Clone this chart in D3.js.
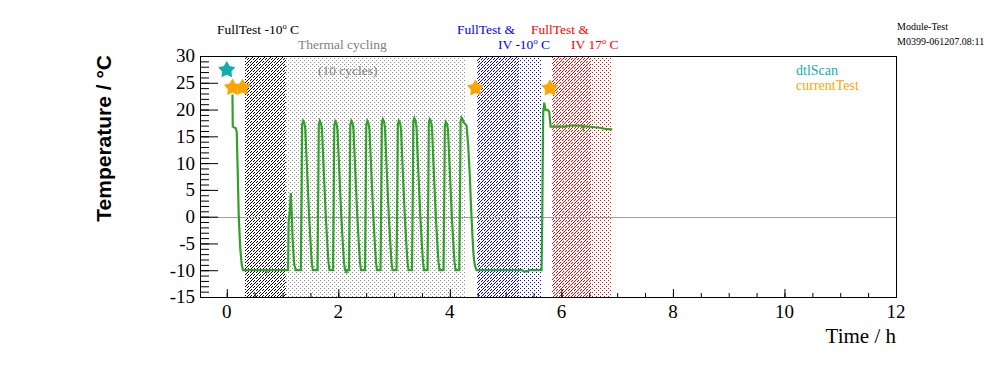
<!DOCTYPE html>
<html><head><meta charset="utf-8">
<script src="https://cdn.jsdelivr.net/npm/d3@7"></script>
<style>html,body{margin:0;padding:0;background:#fff;}svg{display:block;}</style>
</head><body>
<svg id="chart" width="996" height="372"></svg>
<script>
// ---- data ----
const timeH = [
 0.084,0.102,0.108,0.161,0.179,0.197,0.215,0.242,0.269,0.292,0.700,0.715,0.730,
 1.100,1.109,1.130,1.148,1.166,1.184,1.211,1.238,
 1.328,1.342,1.351,1.369,1.391,1.408,1.430,1.453,1.477,1.507,1.525,1.543,
 1.627,1.641,1.650,1.668,1.690,1.707,1.729,1.752,1.776,1.806,1.824,1.842,
 1.905,1.919,1.928,1.946,1.968,1.985,2.007,2.030,2.054,2.084,2.102,2.120,2.140,2.147,2.155,
 2.192,2.206,2.215,2.233,2.255,2.272,2.294,2.317,2.341,2.371,2.389,2.407,
 2.479,2.493,2.502,2.520,2.542,2.559,2.581,2.604,2.628,2.658,2.676,2.694,
 2.757,2.771,2.780,2.798,2.820,2.837,2.859,2.882,2.906,2.936,2.954,2.972,
 3.044,3.058,3.067,3.085,3.107,3.124,3.146,3.169,3.193,3.223,3.241,3.259,
 3.322,3.336,3.345,3.363,3.385,3.402,3.424,3.447,3.471,3.501,3.519,3.537,
 3.600,3.614,3.623,3.641,3.663,3.680,3.702,3.725,3.749,3.779,3.797,3.815,
 3.887,3.901,3.910,3.928,3.950,3.967,3.989,4.012,4.036,4.066,4.084,4.102,
 4.169,4.183,4.192,4.210,4.232,4.250,4.300,4.328,4.359,4.377,4.400,4.418,4.431,4.449,4.479,
 5.300,5.320,5.400,5.420,5.645,5.656,5.674,5.692,5.717,5.758,5.782,5.807,
 6.063,6.153,6.386,6.395,6.404,6.600,6.691,6.780,6.911
];
const tempC = [
 22.6,22.6,16.8,16.5,15.8,8.0,0.0,-6.0,-9.0,-10.0,-10.0,-10.3,-10.0,
 -10.0,-1.0,1.0,4.4,0.0,-5.0,-9.0,-10.0,
 -10,5,17.2,17.9,17.5,16.4,11.0,5.6,0.0,-5.6,-8.5,-10.0,
 -10,5,17.2,17.9,17.4,16.3,11.0,5.6,0.0,-5.6,-8.5,-10.0,
 -10,5,17.1,17.8,17.4,16.2,11.0,5.6,0.0,-5.6,-8.5,-10.0,-10.0,-10.6,-10.0,
 -10,5,17.2,17.9,17.5,16.4,11.0,5.6,0.0,-5.6,-8.5,-10.0,
 -10,5,17.2,17.9,17.4,16.3,11.0,5.6,0.0,-5.6,-8.5,-10.0,
 -10,5,17.5,18.2,17.7,16.6,11.0,5.6,0.0,-5.6,-8.5,-10.0,
 -10,5,17.2,17.9,17.5,16.4,11.0,5.6,0.0,-5.6,-8.5,-10.0,
 -10,5,17.8,18.4,17.9,16.8,11.0,5.6,0.0,-5.6,-8.5,-10.0,
 -10,5,17.5,18.2,17.8,16.6,11.0,5.6,0.0,-5.6,-8.5,-10.0,
 -10,5,17.0,17.7,17.3,16.2,11.0,5.6,0.0,-5.6,-8.5,-10.0,
 -10,5,17.8,18.5,18.1,17.6,17.0,13.4,7.5,2.5,-2.5,-6.0,-7.9,-9.1,-10.0,
 -10.0,-10.2,-10.2,-10.0,-10.0,-1.0,19.6,21.3,19.9,19.9,19.6,16.8,
 16.8,17.0,17.0,16.6,16.9,16.7,16.6,16.4,16.3
];
// test markers
const dtlScanTime = [0.0];
const dtlScanTemp = [27.4];
const currentTestTime = [0.102, 0.282, 4.461, 5.794];
const currentTestTemp = [24.1, 24.1, 24.0, 24.0];
// shaded periods (hours)
const bandKinds = ["hatch", "dots", "hatch", "dots", "hatch", "dots"];
const bandColors = ["#000000", "#8c8c8c", "#0000ff", "#0000ff", "#ff0000", "#ff0000"];
const bandStart = [0.323, 1.058, 4.484, 5.238, 5.830, 6.529];
const bandEnd   = [1.058, 4.269, 5.238, 5.632, 6.529, 6.888];
// axes
const xTicks = [0, 2, 4, 6, 8, 10, 12];
const yTicks = [-15, -10, -5, 0, 5, 10, 15, 20, 25, 30];

// ---- drawing ----
const svg = d3.select("#chart");
const L = 200, R = 896, T = 56, B = 297;
const x = d3.scaleLinear().domain([-0.48, 12]).range([L, R]);
const y = d3.scaleLinear().domain([-15, 30]).range([B, T]);
const serif = "'Liberation Serif','Times New Roman',serif";

// pixel fill patterns (ROOT-like bitmap hatches), aligned to page pixel grid
const mod = (a, n) => ((a % n) + n) % n;
const tests = {
  hatch: (i, j) => mod(i + j, 3) === 0 && mod(i - j, 6) !== 0,
  dots: (i, j) => (i % 4 === 0 && j % 4 === 0) || (i % 4 === 2 && j % 4 === 2)
};
function pixelPath(x0, x1, test) {
  let s = "";
  for (let i = Math.round(x0); i < Math.round(x1); i++)
    for (let j = T + 1; j < B; j++)
      if (test(i, j)) s += "M" + i + "," + j + "h1v1h-1z";
  return s;
}
svg.append("g").attr("shape-rendering", "crispEdges").selectAll("path")
  .data(bandKinds.map((k, i) => ({k, c: bandColors[i], s: bandStart[i], e: bandEnd[i]})))
  .join("path")
  .attr("d", d => pixelPath(x(d.s), x(d.e), tests[d.k]))
  .attr("fill", d => d.c);

// zero line
svg.append("line").attr("x1", L).attr("x2", R).attr("y1", Math.round(y(0)) + 0.5).attr("y2", Math.round(y(0)) + 0.5)
  .attr("stroke", "#a0a0a0").attr("stroke-width", 1);

// temperature curve
const pts = timeH.map((t, i) => [t, tempC[i]]);
svg.append("path").datum(pts)
  .attr("d", d3.line().x(d => x(d[0])).y(d => y(d[1])))
  .attr("fill", "none").attr("stroke", "#33a02c").attr("stroke-width", 2.2)
  .attr("stroke-linejoin", "miter");

// star symbol
const fatStar = {
  draw(ctx, size) {
    const r = Math.sqrt(size), ri = r * 0.55;
    for (let k = 0; k < 10; k++) {
      const rr = k % 2 ? ri : r;
      const a = -Math.PI / 2 + k * Math.PI / 5;
      const px = rr * Math.cos(a), py = rr * Math.sin(a);
      k ? ctx.lineTo(px, py) : ctx.moveTo(px, py);
    }
    ctx.closePath();
  }
};
const star = d3.symbol().type(fatStar).size(81);
svg.append("g").selectAll("path").data(dtlScanTime.map((t, i) => [t, dtlScanTemp[i]]))
  .join("path").attr("d", star)
  .attr("transform", d => `translate(${x(d[0])},${y(d[1])})`).attr("fill", "#14adad");
svg.append("g").selectAll("path").data(currentTestTime.map((t, i) => [t, currentTestTemp[i]]))
  .join("path").attr("d", star)
  .attr("transform", d => `translate(${x(d[0])},${y(d[1])})`).attr("fill", "#ffa500");

// frame
svg.append("rect").attr("x", L + 0.5).attr("y", T + 0.5).attr("width", R - L).attr("height", B - T)
  .attr("fill", "none").attr("stroke", "#000").attr("stroke-width", 1);

// x axis
const xMinor = d3.range(0, 12.01, 0.5);
svg.append("g").attr("transform", `translate(0,${B})`)
  .call(d3.axisTop(x).tickValues(xMinor).tickSize(4).tickFormat(""))
  .call(g => g.select(".domain").remove());
svg.append("g").attr("transform", `translate(0,${B})`)
  .call(d3.axisTop(x).tickValues(xTicks).tickSize(8).tickFormat(""))
  .call(g => g.select(".domain").remove());
svg.append("g").selectAll("text").data(xTicks).join("text")
  .attr("x", d => x(d)).attr("y", 318).attr("text-anchor", "middle")
  .attr("font-family", serif).attr("font-size", 19).text(d => d);

// y axis
const yMinor = d3.range(-15, 30.01, 1);
svg.append("g").attr("transform", `translate(${L},0)`)
  .call(d3.axisRight(y).tickValues(yMinor).tickSize(9).tickFormat(""))
  .call(g => g.select(".domain").remove());
svg.append("g").attr("transform", `translate(${L},0)`)
  .call(d3.axisRight(y).tickValues(yTicks).tickSize(18).tickFormat(""))
  .call(g => g.select(".domain").remove());
svg.append("g").selectAll("text").data(yTicks).join("text")
  .attr("x", 195).attr("y", d => y(d)).attr("dy", "0.34em").attr("text-anchor", "end")
  .attr("font-family", serif).attr("font-size", 19).text(d => d);

// axis titles
svg.append("text").attr("x", 896).attr("y", 343).attr("text-anchor", "end")
  .attr("font-family", serif).attr("font-size", 21).text("Time / h");
svg.append("text").attr("transform", "translate(111,55) rotate(-90)")
  .attr("text-anchor", "end").attr("font-family", "'Liberation Sans',Arial,sans-serif")
  .attr("font-weight", "bold").attr("font-size", 21).text("Temperature / °C");

// annotations
function degLabel(xp, yp, pre, color) {
  const t = svg.append("text").attr("x", xp).attr("y", yp).attr("font-family", serif)
    .attr("font-size", 13.5).attr("fill", color);
  t.append("tspan").text(pre);
  t.append("tspan").attr("dy", -5).attr("font-size", 8.5).text("o");
  t.append("tspan").attr("dy", 5).text("\u00a0C");
}
function label(xp, yp, txt, color, size) {
  svg.append("text").attr("x", xp).attr("y", yp).attr("font-family", serif)
    .attr("font-size", size || 13.5).attr("fill", color).text(txt);
}
degLabel(217, 34, "FullTest -10", "#000");
label(298, 49, "Thermal cycling", "#808080");
label(318, 75, "(10 cycles)", "#808080");
label(457, 34, "FullTest &", "#0000ff");
degLabel(498, 49, "IV -10", "#0000ff");
label(531, 34, "FullTest &", "#ff0000");
degLabel(571, 49, "IV 17", "#ff0000");
label(897, 30, "Module-Test", "#000", 10);
label(897, 45, "M0399-061207.08:11", "#000", 10);
label(796, 75, "dtlScan", "#14adad", 14);
label(796, 90, "currentTest", "#ffa500", 14);
</script>
</body></html>
